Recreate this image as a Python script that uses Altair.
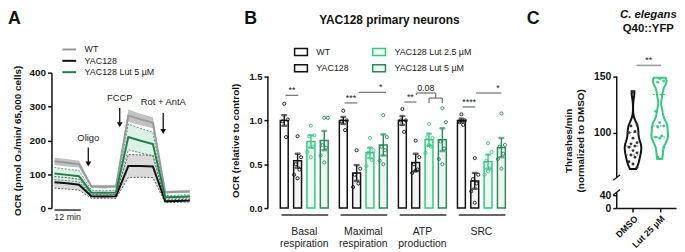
import altair as alt
import pandas as pd

FONT = "Liberation Sans"

# ---------------- Panel A data ----------------
a_time = [0, 5.6, 11.2, 16.8, 22.4, 28.0, 33.6, 39.2, 44.8, 50.4, 56.0, 61.6]
a_series = ["WT", "YAC128", "YAC128 Lut 5 µM"]
a_wt_mean = [138, 134, 130, 64, 63, 64, 273, 262, 252, 47, 48, 49]
a_wt_sem = [11, 11, 10, 5, 5, 5, 18, 17, 16, 4, 4, 4]
a_yac_mean = [76, 73, 69, 35, 34, 35, 124, 124, 123, 20, 21, 22]
a_yac_sem = [17, 17, 16, 6, 5, 6, 34, 33, 33, 4, 4, 4]
a_lut_mean = [102, 98, 94, 46, 45, 46, 210, 199, 189, 32, 33, 34]
a_lut_sem = [18, 17, 17, 7, 6, 7, 38, 36, 35, 5, 5, 5]
a_ticks = [0, 100, 200, 300, 400]
a_inject = ["Oligo", "FCCP", "Rot + AntA"]
a_inject_t = [15.4, 29.7, 49.5]
a_arrow_from = [179, 296, 281]
a_arrow_to = [130, 246, 226]
a_label_at = [208, 324, 313]
a_scalebar = [0, 12]
a_scalebar_label = "12 min"
a_title = "OCR (pmol O₂/min/ 65,000 cells)"

# ---------------- Panel B data ----------------
b_groups = ["Basal\nrespiration", "Maximal\nrespiration", "ATP\nproduction", "SRC"]
b_conds = ["WT", "YAC128", "YAC128 Lut 2.5 µM", "YAC128 Lut 5 µM"]
b_mean_basal = [1.00, 0.54, 0.76, 0.77]
b_mean_maximal = [1.00, 0.40, 0.63, 0.72]
b_mean_atp = [1.00, 0.52, 0.78, 0.78]
b_mean_src = [1.00, 0.31, 0.53, 0.69]
b_sem_basal = [0.06, 0.08, 0.07, 0.11]
b_sem_maximal = [0.04, 0.09, 0.06, 0.12]
b_sem_atp = [0.05, 0.10, 0.07, 0.13]
b_sem_src = [0.02, 0.09, 0.08, 0.11]
b_pts_basal = [[1.19, 1.01, 0.99, 0.81], [0.82, 0.58, 0.50, 0.44, 0.38, 0.34],
               [0.94, 0.83, 0.82, 0.70, 0.64, 0.58], [1.03, 1.03, 0.72, 0.69, 0.60, 0.52]]
b_pts_maximal = [[1.11, 1.00, 0.99, 0.89], [0.66, 0.45, 0.38, 0.28, 0.24],
                 [0.80, 0.66, 0.63, 0.55, 0.48], [1.06, 0.81, 0.70, 0.66, 0.54, 0.50]]
b_pts_atp = [[1.13, 1.00, 1.00, 0.87], [0.77, 0.58, 0.50, 0.44, 0.40, 0.43],
             [0.96, 0.80, 0.81, 0.70, 0.63, 0.72], [1.14, 0.98, 0.76, 0.68, 0.56, 0.50]]
b_pts_src = [[1.07, 1.00, 0.98, 0.95], [0.57, 0.38, 0.33, 0.28, 0.19, 0.06],
             [0.74, 0.64, 0.54, 0.45, 0.38, 0.42], [1.08, 0.72, 0.70, 0.62, 0.56, 0.45]]
b_ticks = [0, 0.5, 1.0, 1.5]
# significance segments: group, cond-from, cond-to, y-from, y-to
b_seg_g = [0, 1, 1, 2, 2, 2, 2, 2, 2, 2, 3, 3]
b_seg_c1 = [0.1, 0.1, 1.15, 0.15, 1.05, 1.05, 2.5, 2.0, 2.0, 3.0, 0.1, 1.1]
b_seg_c2 = [1.05, 1.05, 3.2, 1.05, 2.5, 1.05, 2.5, 3.0, 2.0, 3.0, 1.05, 3.0]
b_seg_y1 = [1.286, 1.20, 1.32, 1.21, 1.313, 1.313, 1.313, 1.255, 1.255, 1.255, 1.154, 1.313]
b_seg_y2 = [1.286, 1.20, 1.32, 1.21, 1.313, 1.29, 1.255, 1.255, 1.20, 1.20, 1.154, 1.313]
b_txt_g = [0, 1, 1, 2, 2, 3, 3]
b_txt_c = [0.58, 0.58, 2.8, 0.6, 1.76, 0.58, 2.75]
b_txt_y = [1.286, 1.20, 1.32, 1.21, 1.313, 1.154, 1.313]
b_txt = ["**", "***", "*", "**", "0.08", "****", "*"]
b_title = "YAC128 primary neurons"
b_ytitle = "OCR (relative to control)"

# ---------------- Panel C data ----------------
c_groups = ["DMSO", "Lut 25 µM"]
c_dmso = [136, 107, 106, 101, 100, 95, 91, 90, 88, 87, 84, 82, 80, 78, 74, 72, 69]
c_lut = [148, 146, 145, 134, 119, 109, 106, 105, 97, 96, 95, 87, 78]
c_ticks = [0, 40, 100, 150]
c_break = [49, 60]
c_sig = "**"
c_title1 = "C. elegans"
c_title2 = "Q40::YFP"
c_ytitle = ["Thrashes/min", "(normalized to DMSO)"]

# ---------------- colours ----------------
GREEN_L = "#2fcb7f"
GREEN_D = "#2a8a5b"
INK = "#111111"


def label_chart(text, x, y, size=18, weight="bold", style="normal", align="left", baseline="top"):
    return alt.Chart(pd.DataFrame({"t": [text]})).mark_text(
        fontSize=size, fontWeight=weight, fontStyle=style, align=align, baseline=baseline,
        color=INK, font=FONT
    ).encode(x=alt.value(x), y=alt.value(y), text="t:N")


# =============== Panel A ===============
rows = []
for s, m, e in zip(a_series, [a_wt_mean, a_yac_mean, a_lut_mean], [a_wt_sem, a_yac_sem, a_lut_sem]):
    for t, mv, ev in zip(a_time, m, e):
        rows.append({"t": t, "series": s, "mean": mv, "sem": ev})
df_a = pd.DataFrame(rows)

ax_scale = alt.Scale(domain=[-1.35, 62.95], nice=False, zero=False)
ay_scale = alt.Scale(domain=[0, 400], nice=False)
a_axis = alt.Axis(values=a_ticks, title=a_title, titlePadding=7, labelPadding=2)


def a_band(s, fill, op):
    return alt.Chart(df_a).transform_filter(alt.datum.series == s).transform_calculate(
        lo="datum.mean - datum.sem", hi="datum.mean + datum.sem"
    ).mark_area(color=fill, opacity=op).encode(
        x=alt.X("t:Q", scale=ax_scale, axis=None),
        y=alt.Y("lo:Q", scale=ay_scale, axis=a_axis),
        y2="hi:Q",
    )


def a_edges(s, color):
    return alt.Chart(df_a).transform_filter(alt.datum.series == s).transform_calculate(
        lo="datum.mean - datum.sem", hi="datum.mean + datum.sem"
    ).transform_fold(["lo", "hi"], as_=["edge", "val"]).mark_line(
        color=color, strokeWidth=0.8, strokeDash=[2, 1.5]
    ).encode(
        x=alt.X("t:Q", scale=ax_scale, axis=None),
        y=alt.Y("val:Q", scale=ay_scale, axis=a_axis),
        detail="edge:N",
    )


a_lines = alt.Chart(df_a).mark_line(strokeWidth=2).encode(
    x=alt.X("t:Q", scale=ax_scale, axis=None),
    y=alt.Y("mean:Q", scale=ay_scale, axis=a_axis),
    stroke=alt.Stroke(
        "series:N",
        scale=alt.Scale(domain=a_series, range=["#9a9a9a", INK, "#1c8048"]),
        legend=alt.Legend(
            title=None, orient="none", legendX=13.5, legendY=-28, symbolType="M-2,0H2",
            symbolSize=49, symbolStrokeWidth=2, labelFontSize=9, labelOffset=11, rowPadding=1.5,
            labelFont=FONT, labelColor="#222", padding=0,
        ),
    ),
)

df_inj = pd.DataFrame({"name": a_inject, "t": a_inject_t, "y0": a_arrow_from,
                       "y1": a_arrow_to, "ly": a_label_at})
a_arrows = alt.Chart(df_inj).mark_rule(color=INK, strokeWidth=1.3).encode(
    x=alt.X("t:Q", scale=ax_scale, axis=None), y=alt.Y("y0:Q", scale=ay_scale, axis=a_axis), y2="y1:Q")
a_heads = alt.Chart(df_inj).mark_point(shape="triangle-down", filled=True, size=34, color=INK, opacity=1).encode(
    x=alt.X("t:Q", scale=ax_scale, axis=None), y=alt.Y("y1:Q", scale=ay_scale, axis=a_axis))
a_inj_text = alt.Chart(df_inj).mark_text(fontSize=9.5, font=FONT, color="#222", baseline="middle").encode(
    x=alt.X("t:Q", scale=ax_scale, axis=None), y=alt.Y("ly:Q", scale=ay_scale, axis=a_axis), text="name:N")

df_bar = pd.DataFrame({"t0": [a_scalebar[0]], "t1": [a_scalebar[1]],
                       "mid": [sum(a_scalebar) / 2], "lab": [a_scalebar_label]})
a_sbar = alt.Chart(df_bar).mark_rule(color=INK, strokeWidth=1.3).encode(
    x=alt.X("t0:Q", scale=ax_scale, axis=None), x2="t1:Q", y=alt.value(139))
a_stext = alt.Chart(df_bar).mark_text(fontSize=9, font=FONT, color="#222", baseline="middle").encode(
    x=alt.X("mid:Q", scale=ax_scale, axis=None), y=alt.value(146), text="lab:N")

panel_a = alt.layer(
    a_band("WT", "#c2c2c2", 1.0),
    a_band("YAC128", "#d6d6d6", 0.9),
    a_band("YAC128 Lut 5 µM", "#d6f0e1", 0.85),
    a_edges("YAC128", "#333333"),
    a_edges("YAC128 Lut 5 µM", "#2a8a5b"),
    a_lines, a_arrows, a_heads, a_inj_text, a_sbar, a_stext,
    label_chart("A", -44, -63),
).properties(width=143, height=137)

# =============== Panel B ===============
POS = "datum.gi + (datum.ci - 1.5) * 0.2258"
b_means = [b_mean_basal, b_mean_maximal, b_mean_atp, b_mean_src]
b_sems = [b_sem_basal, b_sem_maximal, b_sem_atp, b_sem_src]
b_pts = [b_pts_basal, b_pts_maximal, b_pts_atp, b_pts_src]
rows, prow = [], []
for gi in range(len(b_groups)):
    for ci, cond in enumerate(b_conds):
        rows.append({"gi": gi, "ci": ci, "cond": cond, "mean": b_means[gi][ci], "sem": b_sems[gi][ci]})
        for v in b_pts[gi][ci]:
            prow.append({"gi": gi, "ci": ci, "cond": cond, "val": v})
df_b = pd.DataFrame(rows)
df_bp = pd.DataFrame(prow)

leg_order = b_conds
stroke_scale = alt.Scale(domain=leg_order, range=[INK, INK, GREEN_L, GREEN_D])
fill_scale = alt.Scale(domain=leg_order, range=["#ffffff", "#f4f4f4", "#f0faf4", "#eef6f1"])
dot_scale = alt.Scale(domain=leg_order, range=[INK, "#444444", GREEN_L, GREEN_D])
b_legend = alt.Legend(
    title=None, orient="none", legendX=29, legendY=-25.5, columns=2, columnPadding=21,
    rowPadding=3.5, symbolType="M-1.85,-1H1.85V1H-1.85Z", symbolSize=49, symbolStrokeWidth=1.5,
    labelFontSize=9, labelOffset=11, labelFont=FONT, labelColor="#222", padding=0,
)
bx = alt.Scale(domain=[-0.532, 3.936], nice=False, zero=False)
by = alt.Scale(domain=[0, 1.545], nice=False)
b_axis = alt.Axis(values=b_ticks, format=".1f", title=b_ytitle, domain=False, titlePadding=9,
                  labelFontSize=9.5)

b_bars = alt.Chart(df_b).transform_calculate(pos=POS, zero="0").mark_bar(width=8, strokeWidth=1.5).encode(
    x=alt.X("pos:Q", scale=bx, axis=None),
    y=alt.Y("mean:Q", scale=by, axis=b_axis), y2="zero:Q",
    fill=alt.Fill("cond:N", scale=fill_scale, legend=b_legend),
    stroke=alt.Stroke("cond:N", scale=stroke_scale, legend=b_legend),
)
# dotted texture inside the patterned bars (derived from each bar's height)
b_dots = alt.Chart(df_b).transform_filter("datum.ci > 0").transform_calculate(
    pos=POS, ys="sequence(0.035, datum.mean - 0.015, 0.05)"
).transform_flatten(["ys"]).transform_window(
    rn="row_number()", groupby=["gi", "ci"]
).transform_calculate(dx="datum.pos + (datum.rn % 2 == 0 ? 0.028 : -0.028)").mark_point(
    shape="circle", filled=True, size=1.6, opacity=0.9).encode(
    x=alt.X("dx:Q", scale=bx, axis=None), y=alt.Y("ys:Q", scale=by, axis=b_axis),
    fill=alt.Fill("cond:N", scale=dot_scale, legend=None))
b_err = alt.Chart(df_b).transform_calculate(pos=POS, lo="datum.mean - datum.sem",
                                            hi="datum.mean + datum.sem").mark_rule(strokeWidth=1.4).encode(
    x=alt.X("pos:Q", scale=bx, axis=None), y=alt.Y("lo:Q", scale=by, axis=b_axis), y2="hi:Q",
    stroke=alt.Stroke("cond:N", scale=stroke_scale, legend=None))
b_caps = alt.Chart(df_b).transform_calculate(pos=POS, lo="datum.mean - datum.sem",
                                             hi="datum.mean + datum.sem").transform_fold(
    ["lo", "hi"], as_=["k", "cv"]).mark_tick(orient="horizontal", size=5, thickness=1.4).encode(
    x=alt.X("pos:Q", scale=bx, axis=None), y=alt.Y("cv:Q", scale=by, axis=b_axis),
    stroke=alt.Stroke("cond:N", scale=stroke_scale, legend=None))
b_points = alt.Chart(df_bp).transform_window(rn="row_number()", groupby=["gi", "ci"]).transform_calculate(
    jx=POS + " + ((datum.rn * 2) % 5 - 2) * 0.03").mark_point(
    shape="circle", filled=False, size=10, strokeWidth=0.9, opacity=1).encode(
    x=alt.X("jx:Q", scale=bx, axis=None), y=alt.Y("val:Q", scale=by, axis=b_axis),
    stroke=alt.Stroke("cond:N", scale=stroke_scale, legend=None))

df_seg = pd.DataFrame({"gi": b_seg_g, "c1": b_seg_c1, "c2": b_seg_c2, "y1": b_seg_y1, "y2": b_seg_y2})
b_segs = alt.Chart(df_seg).transform_calculate(
    p1="datum.gi + (datum.c1 - 1.5) * 0.2258", p2="datum.gi + (datum.c2 - 1.5) * 0.2258"
).mark_rule(color="#7a7a7a", strokeWidth=1.3).encode(
    x=alt.X("p1:Q", scale=bx, axis=None), x2="p2:Q",
    y=alt.Y("y1:Q", scale=by, axis=b_axis), y2="y2:Q")
df_txt = pd.DataFrame({"gi": b_txt_g, "c": b_txt_c, "y": b_txt_y, "t": b_txt})
b_stxt = alt.Chart(df_txt).transform_calculate(p="datum.gi + (datum.c - 1.5) * 0.2258").mark_text(
    fontSize=9, font=FONT, color="#222", baseline="alphabetic", dy=-2).encode(
    x=alt.X("p:Q", scale=bx, axis=None), y=alt.Y("y:Q", scale=by, axis=b_axis), text="t:N")

df_grp = pd.DataFrame({"gi": list(range(len(b_groups))), "lab": b_groups})
b_under = alt.Chart(df_grp).transform_calculate(
    p1="datum.gi + (-0.2 - 1.5) * 0.2258", p2="datum.gi + (3.3 - 1.5) * 0.2258"
).mark_rule(color="#333333", strokeWidth=1.5).encode(
    x=alt.X("p1:Q", scale=bx, axis=None), x2="p2:Q", y=alt.value(144))
b_glab = alt.Chart(df_grp).mark_text(fontSize=10.5, font=FONT, color="#222", lineBreak="\n",
                                     lineHeight=12, baseline="middle").encode(
    x=alt.X("gi:Q", scale=bx, axis=None), y=alt.value(161), text="lab:N")
b_yline = alt.Chart(pd.DataFrame({"lo": [b_ticks[0]], "hi": [b_ticks[-1]]})).mark_rule(
    color=INK, strokeWidth=1.5).encode(x=alt.value(0), y=alt.Y("lo:Q", scale=by, axis=b_axis), y2="hi:Q")

panel_b = alt.layer(
    b_bars, b_dots, b_err, b_caps, b_points, b_segs, b_stxt, b_under, b_glab, b_yline,
    label_chart("B", -24, -63),
    label_chart(b_title, 123, -53, size=12, align="center", baseline="middle"),
).properties(width=277, height=137)

# =============== Panel C ===============
c_values = [c_dmso, c_lut]
crow = []
for gi, (g, vals) in enumerate(zip(c_groups, c_values)):
    for v in vals:
        crow.append({"gi": gi, "g": g, "v": v})
df_c = pd.DataFrame(crow)

cx = alt.Scale(domain=[-0.61, 1.61], nice=False, zero=False)
cy = alt.Scale(domain=[0, 40, 49, 60, 153.5], range=[137, 124, 121, 106, 0], nice=False, zero=False)
c_axis = alt.Axis(values=c_ticks, title=c_ytitle, domain=False, titlePadding=8, labelFontSize=10.5)
c_xaxis = alt.Axis(values=[0, 1], title=None, labelAngle=315, labelFontSize=9, labelPadding=2,
                   labelExpr="[" + ",".join("'" + g + "'" for g in c_groups) + "][datum.value]")
c_cols = [INK, GREEN_L]


def violin(i):
    vals = c_values[i]
    return alt.Chart(df_c).transform_filter(alt.datum.gi == i).transform_density(
        "v", as_=["v", "density"], bandwidth=5, extent=[min(vals) - 1.5, max(vals) + 1], steps=120
    ).transform_joinaggregate(dmax="max(density)").transform_calculate(
        left=f"{i} - 0.31 * datum.density / datum.dmax",
        right=f"{i} + 0.31 * datum.density / datum.dmax",
    ).mark_area(orient="horizontal", fill="white", stroke=c_cols[i], strokeWidth=2,
                interpolate="monotone").encode(
        y=alt.Y("v:Q", scale=cy, axis=c_axis),
        x=alt.X("left:Q", scale=cx, axis=c_xaxis), x2="right:Q")


c_quart = alt.Chart(df_c).transform_quantile(
    "v", probs=[0.25, 0.5, 0.75], groupby=["gi", "g"], as_=["prob", "q"]
).transform_calculate(x1="datum.gi - 0.26", x2="datum.gi + 0.26").mark_rule(
    strokeWidth=0.8, strokeDash=[2, 1.5]).encode(
    x=alt.X("x1:Q", scale=cx, axis=c_xaxis), x2="x2:Q", y=alt.Y("q:Q", scale=cy, axis=c_axis),
    stroke=alt.Stroke("g:N", scale=alt.Scale(domain=c_groups, range=["#666666", "#2e9e62"]), legend=None))
c_pts = alt.Chart(df_c).transform_window(rn="row_number()", groupby=["gi"]).transform_calculate(
    jx="datum.gi + ((datum.rn * 7) % 5 - 2) * 0.075").mark_circle(size=8, opacity=1).encode(
    x=alt.X("jx:Q", scale=cx, axis=c_xaxis), y=alt.Y("v:Q", scale=cy, axis=c_axis),
    color=alt.Color("g:N", scale=alt.Scale(domain=c_groups, range=["#333333", GREEN_L]), legend=None))
df_cax = pd.DataFrame({"lo": [c_ticks[0], c_break[1]], "hi": [c_break[0], c_ticks[-1]]})
c_yline = alt.Chart(df_cax).mark_rule(color=INK, strokeWidth=1.5).encode(
    x=alt.value(0), y=alt.Y("lo:Q", scale=cy, axis=c_axis), y2="hi:Q")
c_slash = alt.Chart(pd.DataFrame({"b": c_break})).mark_point(
    shape="M-1,0.8L1,-0.8", size=49, filled=False, color=INK, strokeWidth=1.3, opacity=1).encode(
    x=alt.value(0), y=alt.Y("b:Q", scale=cy, axis=c_axis))
df_csig = pd.DataFrame({"x1": [0.13], "x2": [1.05], "xm": [0.59], "y": [160.0], "t": [c_sig]})
c_sigl = alt.Chart(df_csig).mark_rule(color="#9a9a9a", strokeWidth=1.6).encode(
    x=alt.X("x1:Q", scale=cx, axis=c_xaxis), x2="x2:Q", y=alt.Y("y:Q", scale=cy, axis=c_axis))
c_sigt = alt.Chart(df_csig).mark_text(fontSize=9, font=FONT, color="#222", baseline="alphabetic", dy=-2).encode(
    x=alt.X("xm:Q", scale=cx, axis=c_xaxis), y=alt.Y("y:Q", scale=cy, axis=c_axis), text="t:N")

panel_c = alt.layer(
    violin(0), violin(1), c_quart, c_pts, c_yline, c_slash, c_sigl, c_sigt,
    label_chart("C", -91, -63),
    label_chart(c_title1, 32, -58, size=11.5, style="italic", align="center", baseline="middle"),
    label_chart(c_title2, 32, -44, size=11.5, align="center", baseline="middle"),
).properties(width=60, height=137)

chart = alt.hconcat(panel_a, panel_b, panel_c, spacing=76, bounds="flush").resolve_scale(
    x="independent", y="independent", stroke="independent", fill="independent", color="independent"
).resolve_legend(stroke="independent", fill="independent").properties(padding=0).configure_view(
    stroke=None
).configure_axis(
    grid=False, labelFont=FONT, titleFont=FONT, labelFontWeight="bold", titleFontWeight="bold",
    labelColor=INK, titleColor=INK, domainColor=INK, tickColor=INK, domainWidth=1.5, tickWidth=1.5,
    tickSize=4, labelFontSize=10, titleFontSize=10,
).configure_text(font=FONT)

chart.save("out.html", embed_options={"renderer": "svg", "actions": False})
